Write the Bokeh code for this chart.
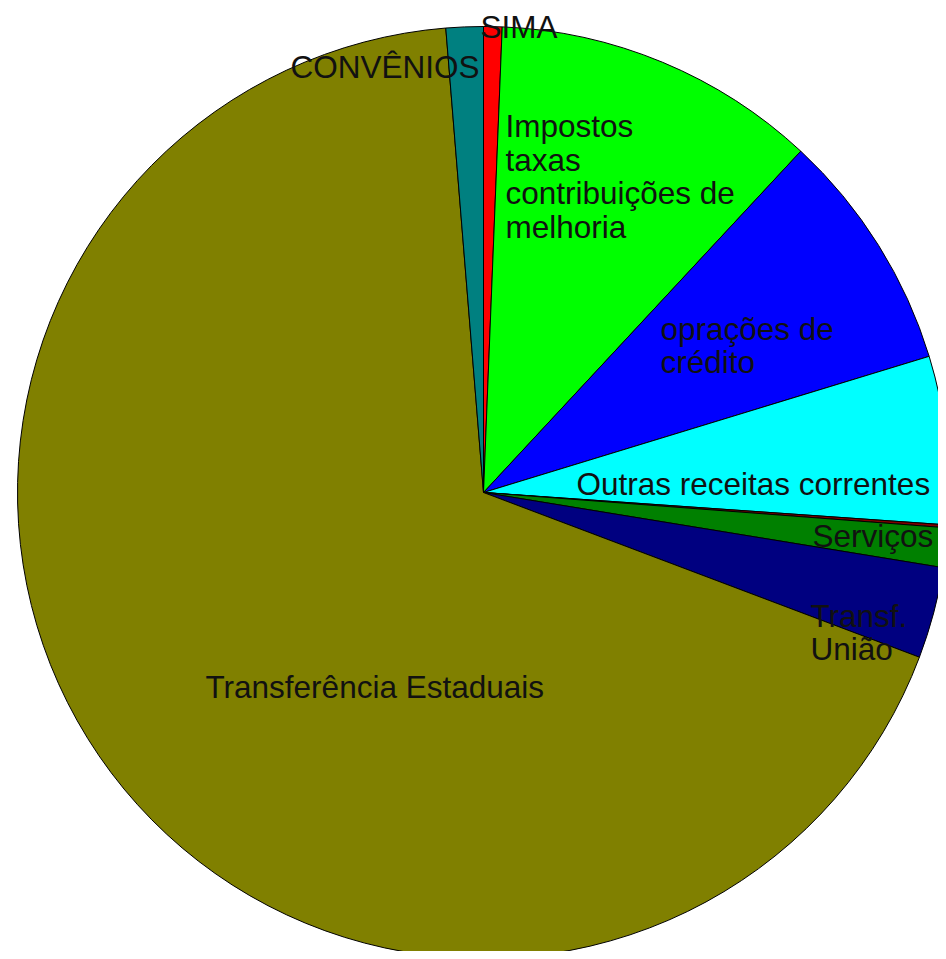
import numpy as np
from bokeh.plotting import figure
from bokeh.models import Range1d, ColumnDataSource
from bokeh.core.properties import value
from bokeh.embed import file_html
from bokeh.resources import INLINE

# Slices, clockwise from 12 o'clock
categories = ["SIMA", "Impostos taxas contribuições de melhoria", "oprações de crédito",
              "Outras receitas correntes", "Outras", "Serviços", "Transf. União",
              "Transferência Estaduais", "CONVÊNIOS"]
values = [0.64, 11.28, 8.36, 5.83, 0.10, 1.37, 3.17, 67.96, 1.29]
colors = ["#FF0000", "#00FF00", "#0000FF", "#00FFFF", "#800000", "#008000", "#000080",
          "#808000", "#008080"]
labels = ["SIMA", "Impostos\ntaxas\ncontribuições de\nmelhoria", "oprações de\ncrédito",
          "Outras receitas correntes", "", "Serviços", "Transf.\nUnião",
          "Transferência Estaduais", "CONVÊNIOS"]
# label anchor positions (pixel units relative to the pie centre)
label_x = [-3, 22, 177, 93, 0, 329, 327, -278, -4]
label_y = [466, 316, 147, 9, 0, -43, -140, -194, 426]
label_align = ["left", "left", "left", "left", "left", "left", "left", "left", "right"]

R = 466
W, H = 938, 951
cx, cy = 483, 492  # centre in figure pixels

vals = np.array(values, dtype=float)
frac = vals / vals.sum()
cum = np.concatenate([[0], np.cumsum(frac)]) * 2 * np.pi
start = np.pi / 2 - cum[:-1]
end = np.pi / 2 - cum[1:]

src = ColumnDataSource(dict(cat=categories, start=start, end=end, color=colors))
lsrc = ColumnDataSource(dict(x=label_x, y=label_y, text=labels, align=label_align))

p = figure(width=W, height=H, output_backend="svg", toolbar_location=None,
           x_range=Range1d(-cx, W - cx), y_range=Range1d(-(H - cy), cy),
           min_border=0, outline_line_color=None)
p.axis.visible = False
p.grid.visible = False
p.background_fill_color = "white"
p.border_fill_color = "white"

p.wedge(x=0, y=0, radius=R, start_angle="start", end_angle="end", direction="clock",
        fill_color="color", line_color="black", line_width=1, source=src)

p.text(x="x", y="y", text="text", text_align="align", text_baseline="middle",
       text_font=value("Liberation Sans"), text_font_size="31.5px", text_color="#111111",
       text_line_height=0.93, source=lsrc)

open("out.html", "w").write(file_html(p, INLINE))
